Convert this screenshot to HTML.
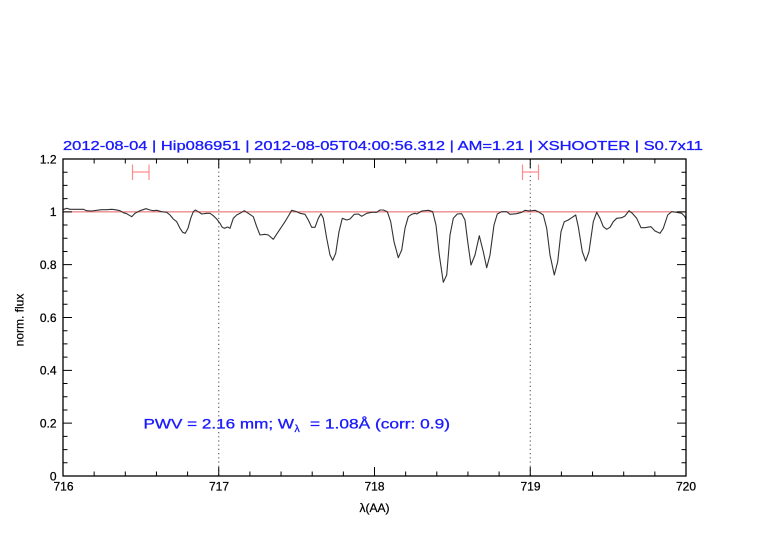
<!DOCTYPE html>
<html><head><meta charset="utf-8"><style>
html,body{margin:0;padding:0;background:#fff;}
svg{display:block;}
text{font-family:"Liberation Sans",sans-serif;}
</style></head><body>
<svg width="782" height="542" viewBox="0 0 782 542" xmlns="http://www.w3.org/2000/svg">
<rect width="782" height="542" fill="#fff"/>
<!-- title -->
<text x="63" y="150" font-size="12.5" fill="#1a1aff" stroke="#1a1aff" stroke-width="0.3" textLength="640" lengthAdjust="spacingAndGlyphs">2012-08-04 | Hip086951 | 2012-08-05T04:00:56.312 | AM=1.21 | XSHOOTER | S0.7x11</text>
<!-- dotted verticals -->
<path d="M218.75 159V476M530.25 159V476" stroke="#444" stroke-width="1" stroke-dasharray="1.2,3" fill="none"/>
<!-- reference line at 1 -->
<path d="M63 211.83H686" stroke="#e86060" stroke-width="1" fill="none"/>
<!-- error bars -->
<path d="M132.5 172H149M132.5 164.5V180M149 164.5V180M522.5 172H538.5M522.5 164.5V180M538.5 164.5V180" stroke="#ff8c8c" stroke-width="1.2" fill="none"/>
<!-- spectrum -->
<polyline fill="none" stroke="#333" stroke-width="1.1" stroke-linejoin="round" points="63,209.7 66.7,208.3 70,209.3 76.7,209.3 83.3,209.3 86.7,210.7 91.7,211 96.7,210.3 101.7,209.7 106.7,209.7 111.7,209.3 115,209.7 120,210.7 123.3,212.7 126.7,213.7 131.7,216.7 135,213.3 140,210.7 146,208.7 150,210 153.3,210.7 156.7,210.3 161.7,211.7 166.7,212.3 170,215 173.3,219 176.7,221.7 180,228.3 182.7,232.3 185.3,233.3 188,228.3 190.7,218.3 193.3,211.7 195.3,210 198.3,211.7 201.7,214 206.7,213.3 210,213.3 213.3,215.7 216.7,219 220,223.3 222,227 224.3,228.3 227.7,227 230,228.3 233.3,218.3 236.7,215 240,213.3 244.3,210.7 248.3,213.3 253.3,216.7 256.7,226.7 260,235 265,234.3 268.3,235 273.3,239.3 278.3,231.7 285,221.7 289,215 291.7,210.3 296.7,211.7 300,213.3 305,214.3 308.3,220 311.7,227.3 315,227.3 318.3,218.3 321,213.7 323.3,218.3 326.7,238.3 330,255 332.7,260.3 335.7,253.3 339,231.7 342.3,218.3 346.7,220 350,219 354.3,214.3 358.3,214 361.7,216.3 366.7,213.3 371.7,212.3 376.7,212.3 380,210 383.3,210 387.3,211.7 390.7,221.7 394,241.7 398.3,257.7 401.7,250 405,228.3 408.3,216.7 411.7,214.3 415,213.3 416.7,214 421.7,211 428.3,210.3 432.7,211.7 436,225 439.3,255 443.3,282.3 446.7,275 450,235 453.3,218.3 457.3,214 461.7,213.7 465,220 467.7,241.7 471,265 475,255 479.3,235.7 483.3,251.7 486.7,267.7 490,255 494,225 497.3,214 501.7,211.7 506.7,211.7 510,214.3 516.7,213.7 521.7,212.3 525,210.3 529.3,211 535,210.3 538.3,211.7 543.3,215 546.7,228.3 550,255 554.3,275 557.7,261.7 561,231.7 564.3,221.7 568.3,220 571.7,217.7 575.7,215 578.3,226.7 582.3,251.7 585.7,261 589,251.7 593.3,221.7 596.7,212.3 600,218.3 603.3,226.7 606.7,229.3 610,227.3 613.3,221.7 616.7,218.3 621.7,217.7 625,216 629,210.7 632.3,213.3 636.7,218.3 641,227.7 645,227.7 651,226.7 655,231 660,233.3 663.3,228.3 667.7,215 671.7,211.7 676.7,212.3 681.7,213.3 685,216.7 686,220"/>
<!-- frame -->
<rect x="63" y="159" width="623" height="317" fill="none" stroke="#000" stroke-width="1.3"/>
<!-- ticks -->
<path fill="none" stroke="#000" stroke-width="1" d="
M94.15 476v-4.5M125.3 476v-4.5M156.45 476v-4.5M187.6 476v-4.5M249.9 476v-4.5M281.05 476v-4.5M312.2 476v-4.5M343.35 476v-4.5M405.65 476v-4.5M436.8 476v-4.5M467.95 476v-4.5M499.1 476v-4.5M561.4 476v-4.5M592.55 476v-4.5M623.7 476v-4.5M654.85 476v-4.5
M218.75 476v-9M374.5 476v-9M530.25 476v-9
M94.15 159v4.5M125.3 159v4.5M156.45 159v4.5M187.6 159v4.5M249.9 159v4.5M281.05 159v4.5M312.2 159v4.5M343.35 159v4.5M405.65 159v4.5M436.8 159v4.5M467.95 159v4.5M499.1 159v4.5M561.4 159v4.5M592.55 159v4.5M623.7 159v4.5M654.85 159v4.5
M218.75 159v9M374.5 159v9M530.25 159v9
M63 462.79h4.5M63 449.58h4.5M63 436.38h4.5M63 409.96h4.5M63 396.75h4.5M63 383.54h4.5M63 357.13h4.5M63 343.92h4.5M63 330.71h4.5M63 304.29h4.5M63 291.08h4.5M63 277.88h4.5M63 251.46h4.5M63 238.25h4.5M63 225.04h4.5M63 198.63h4.5M63 185.42h4.5M63 172.21h4.5
M63 423.17h9M63 370.33h9M63 317.5h9M63 264.67h9M63 211.83h9
M686 462.79h-4.5M686 449.58h-4.5M686 436.38h-4.5M686 409.96h-4.5M686 396.75h-4.5M686 383.54h-4.5M686 357.13h-4.5M686 343.92h-4.5M686 330.71h-4.5M686 304.29h-4.5M686 291.08h-4.5M686 277.88h-4.5M686 251.46h-4.5M686 238.25h-4.5M686 225.04h-4.5M686 198.63h-4.5M686 185.42h-4.5M686 172.21h-4.5
M686 423.17h-9M686 370.33h-9M686 317.5h-9M686 264.67h-9M686 211.83h-9"/>
<!-- y labels -->
<g font-size="12" fill="#000" stroke="#000" stroke-width="0.25" text-anchor="end">
<text x="56.5" y="480.3">0</text>
<text x="56.5" y="427.5">0.2</text>
<text x="56.5" y="374.6">0.4</text>
<text x="56.5" y="321.8">0.6</text>
<text x="56.5" y="269">0.8</text>
<text x="56.5" y="216.1">1</text>
<text x="56.5" y="163.3">1.2</text>
</g>
<!-- x labels -->
<g font-size="12" fill="#000" stroke="#000" stroke-width="0.25" text-anchor="middle">
<text x="63.5" y="490.5">716</text>
<text x="219" y="490.5">717</text>
<text x="374.5" y="490.5">718</text>
<text x="530.5" y="490.5">719</text>
<text x="686" y="490.5">720</text>
<text x="374.5" y="512">λ(AA)</text>
</g>
<text transform="translate(23.5,320) rotate(-90)" font-size="12" fill="#000" stroke="#000" stroke-width="0.2" text-anchor="middle">norm. flux</text>
<!-- PWV annotation -->
<g fill="#1a1aff" stroke="#1a1aff" stroke-width="0.3">
<text x="143.5" y="428.5" font-size="13.5" textLength="150.5" lengthAdjust="spacingAndGlyphs">PWV = 2.16 mm; W</text>
<text x="294.5" y="432" font-size="10.5">λ</text>
<text x="310" y="428.5" font-size="13.5" textLength="140" lengthAdjust="spacingAndGlyphs">= 1.08Å (corr: 0.9)</text>
</g>
</svg>
</body></html>
